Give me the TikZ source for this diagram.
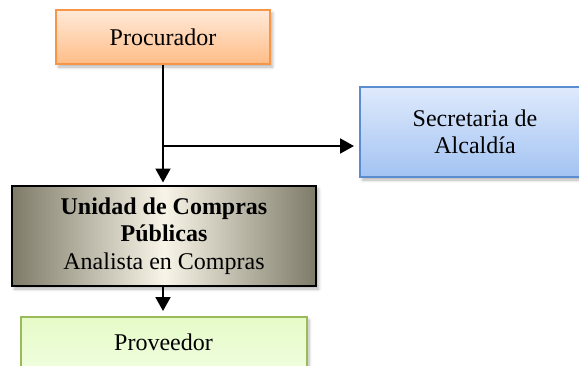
\documentclass[tikz,border=0pt]{standalone}
\usepackage{fontspec}
\setmainfont{Liberation Serif}
\usetikzlibrary{arrows.meta,shadows.blur}
\definecolor{orBorder}{HTML}{F79646}
\definecolor{orTop}{HTML}{FFE9D8}
\definecolor{orBot}{HTML}{FFBD88}
\definecolor{blBorder}{HTML}{5B8BD0}
\definecolor{blTop}{HTML}{DFEAFC}
\definecolor{blBot}{HTML}{A3C3F2}
\definecolor{grEdge}{HTML}{7E7B69}
\definecolor{grMid}{HTML}{F8F5E8}
\definecolor{gnBorder}{HTML}{9BBB59}
\definecolor{gnTop}{HTML}{E6FBC8}
\definecolor{gnBot}{HTML}{EFFDDC}
\tikzset{
  box/.style={rectangle, line width=2pt, align=center, inner sep=0pt,
    font=\fontsize{24}{27.5}\selectfont,
    blur shadow={shadow xshift=2.5pt, shadow yshift=-3pt, shadow blur steps=6, shadow opacity=30, shadow blur radius=3pt}},
  conn/.style={line width=2pt, -{Triangle[width=15pt,length=14pt]}}
}
\begin{document}
\begin{tikzpicture}[x=1pt,y=-1pt]
\useasboundingbox (0,0) rectangle (579,365);
\clip (0,0) rectangle (579,365);
\node[box, draw=orBorder, top color=orTop, bottom color=orBot,
  minimum width=214pt, minimum height=54pt] (proc) at (163,37) {Procurador};
\node[box, draw=blBorder, top color=blTop, bottom color=blBot,
  minimum width=230pt, minimum height=90pt] (secr) at (475,132) {Secretaria de\\Alcaldía};
\node[box, draw=black, left color=grEdge, right color=grEdge, middle color=grMid,
  minimum width=304pt, minimum height=100pt] (unid) at (164,236)
  {\textbf{Unidad de Compras}\\\textbf{Públicas}\\Analista en Compras};
\node[box, draw=gnBorder, top color=gnTop, bottom color=gnBot,
  minimum width=286pt, minimum height=50pt] (prov) at (163.5,342) {Proveedor};
\coordinate (br) at (163,146);
\draw[line width=2pt] (proc.south -| br) -- (br);
\draw[conn, shorten >=2.5pt] (br) -- (br |- unid.north);
\draw[conn, shorten >=5pt] (br) -- (br -| secr.west);
\draw[conn, shorten >=5pt] (unid.south -| br) -- (prov.north -| br);
\end{tikzpicture}
\end{document}
